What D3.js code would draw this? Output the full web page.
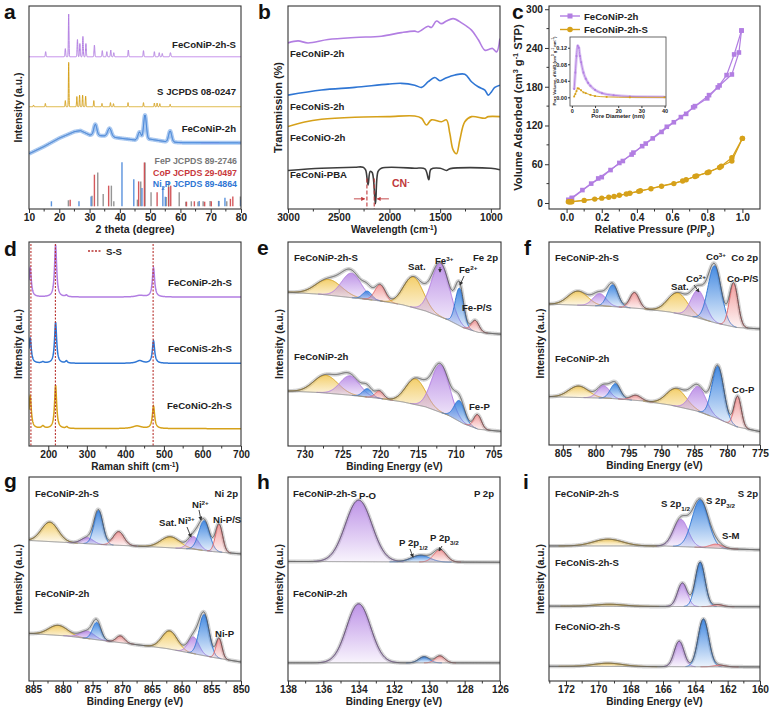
<!DOCTYPE html>
<html>
<head>
<meta charset="utf-8">
<script src="https://cdn.jsdelivr.net/npm/d3@7"></script>
<style>
  body { margin: 0; background: #fff; }
  svg { display: block; font-family: "Liberation Sans", Arial, sans-serif; font-weight: bold; }
</style>
</head>
<body>
<div id="fig"></div>
<script>
const WIDTH = 771, HEIGHT = 708;
const COL = { Y: "#d6a11a", P: "#b27ee2", B: "#2f76d4", R: "#e0676a", K: "#3a3a3a", G: "#7a7a7a" };
const FILL = { Y: "#f3cd66", P: "#bb8fe6", B: "#3c85e0", R: "#f29a9a" };

// ---------- (a) XRD ----------
// [2theta, height, width]
const xrdPS = [[15.5,2.5,0.12],[22,4,0.12],[23.1,21,0.1],[26,8.5,0.12],[26.8,6.5,0.12],[27.8,10,0.12],[28.8,6.5,0.12],[31.6,5.7,0.12],[34.2,3,0.12],[35.7,2.5,0.12],[37,3.3,0.12],[38,2,0.12],[42.8,3.3,0.12],[47.8,3,0.12],[51.4,2.5,0.12],[53,2,0.12],[54,1.6,0.12],[56.7,2,0.15]];
const xrdPSBase = 75;
const xrdSulfur = [[11.5,0.8,0.1],[15.4,1.6,0.1],[22,3,0.1],[23.1,21.8,0.09],[25.8,5,0.1],[26.7,5.7,0.1],[27.7,5.7,0.1],[28.7,5.2,0.1],[31.4,3,0.1],[34.1,1.6,0.1],[36.9,2,0.1],[37.9,1.5,0.1],[42.7,2,0.1],[47.8,2,0.1],[51.4,1.8,0.1],[52.3,1.8,0.1],[53.2,1.5,0.1],[56.6,1.2,0.1]];
const xrdSulfurBase = 50.4;
const xrdPBase = [[10,27.2],[15,30.8],[20,34.9],[25,38.1],[27,38.6],[30,36.5],[35,36],[40,34.9],[45,34],[50,34.4],[55,33.2],[60,32.7],[80,32.6]];
const xrdP = [[31.9,5.4,0.5],[36.6,4.1,0.6],[46.5,3.8,0.5],[48.3,12,0.45],[56.6,5.4,0.5]];
const stickFeP = [[23,4.3],[30.8,6.5],[32.7,18],[34.5,7.4],[37.2,11.5],[38,3.8],[45.8,4.6],[46.9,13.6],[48.3,22.9],[50.3,8.2],[55.3,5.9],[56.1,13.6],[59.6,8.2],[61.8,3.6],[63.6,3.8],[65.8,3.6],[67.5,3.8],[69.8,4],[72.6,4],[75.3,3.8],[79.8,6.2]];
const stickCoP = [[23.6,4.6],[31.6,16.9],[36.3,11.5],[46.2,13.6],[48.1,22.9],[52.3,8.2],[56.1,10.8],[56.8,11.5],[62,3.6],[64.6,3.8],[68,3.6],[70.2,3.8],[76.5,5],[77.3,6.2]];
const stickNi2P = [[17.4,3.8],[26.5,3.8],[30.5,6.2],[40.7,23],[44.6,14.7],[47.3,10.3],[54.2,10.8],[55,6],[66.2,4],[72.7,4],[74.7,5.6],[80,4.5]];
const stickBase = 1.3;

// ---------- (b) FTIR [wavenumber, value] ----------
const ftirP = [[3000,81.8],[2901,82.8],[2803,81.8],[2605,83.5],[2342,84.5],[2079,85.1],[1882,86.9],[1750,87.6],[1717,87.2],[1618,90],[1586,89.4],[1536,92.6],[1487,91.3],[1438,92.6],[1372,93.8],[1289,91.7],[1191,88.1],[1125,83.5],[1059,78.2],[1016,78.7],[983,79.1],[944,77.4],[911,84]];
const ftirS = [[3000,56.1],[2671,58.6],[2342,59.9],[2013,61.5],[1882,61.9],[1750,61],[1684,59.9],[1618,62.7],[1553,64.8],[1503,63.2],[1454,64.3],[1355,66],[1257,66.4],[1191,62.7],[1125,60.2],[1059,58.6],[1026,56.1],[993,57.8],[961,59.9],[911,61]];
const ftirO = [[3000,40.6],[2836,42.9],[2671,44.2],[2342,45.2],[2013,45.5],[1750,45.8],[1684,44.7],[1635,41.4],[1586,43.9],[1487,43],[1438,43.9],[1405,37.3],[1372,29.1],[1339,27.2],[1306,34],[1257,43],[1191,45.5],[1059,44.7],[1026,45.5],[911,45.5]];
const ftirPBA = [[3000,19],[2671,20.1],[2342,20.6],[2260,20.6],[2235,19.3],[2211,11.9],[2190,18.5],[2170,18],[2138,2.6],[2112,18.5],[2080,20.1],[1750,20.1],[1650,19.8],[1612,14.4],[1590,19.6],[1500,20.1],[1438,19],[1400,19.9],[1000,20.1],[911,19.3]];
const cnLines = [2222, 2150];

// ---------- (c) N2 isotherms [P/P0, V] ----------
const betPAds = [[0.01,4],[0.03,8],[0.09,20],[0.14,30],[0.2,40],[0.25,51],[0.3,62],[0.37,75],[0.43,88],[0.49,100],[0.54,110],[0.61,125],[0.68,138],[0.73,150],[0.81,167],[0.87,182],[0.94,199],[0.98,233],[0.995,267]];
const betPDes = [[0.995,267],[0.953,230],[0.91,198],[0.86,179],[0.8,162],[0.72,148],[0.65,133],[0.57,118],[0.45,92],[0.38,78],[0.32,65],[0.18,38],[0.03,7],[0.01,5]];
const betSAds = [[0.01,2],[0.03,2],[0.1,4],[0.16,6],[0.2,7.5],[0.24,9],[0.3,12],[0.36,15],[0.42,19],[0.48,22],[0.54,26],[0.61,30],[0.68,36],[0.74,42],[0.81,48],[0.88,57],[0.94,65],[1.0,100]];
const betSDes = [[1.0,100],[0.94,70],[0.87,55],[0.8,47],[0.73,41],[0.66,34],[0.41,18],[0.34,14],[0.27,10],[0.02,1.5]];
const poreP = [[1,0.02],[1.5,0.06],[2,0.1],[2.5,0.125],[3,0.12],[3.5,0.1],[4,0.085],[5,0.06],[6,0.045],[7,0.035],[8,0.028],[10,0.018],[13,0.01],[18,0.005],[25,0.002],[40,0.001]];
const poreS = [[1,0.002],[1.5,0.008],[2,0.015],[2.5,0.022],[3,0.021],[4,0.017],[5,0.012],[6,0.01],[8,0.006],[10,0.003],[15,0.001],[25,0],[40,0]];

// ---------- (d) Raman [shift, height, halfwidth] ----------
const ramanP = [[153,14.3,3.5],[219,25.7,3.2],[247,0.8,3],[438,0.8,12],[473,14.3,3.5]];
const ramanS = [[153,12.3,3.5],[186,0.6,4],[219,20.2,3.2],[247,1.1,3],[437,1.3,10],[473,11,3.5]];
const ramanO = [[153,16,3.5],[186,1.2,4],[219,21.3,3.2],[248,0.8,3],[430,1.3,14],[473,11,3.5]];
const ramanBase = [73, 40.5, 8.5];
const ssLines = [155, 218.5, 472];

// ---------- (e-i) XPS: background [BE, value], components [center, height, sigma, colour] ----------
const feSBg = [[732.2,75.4],[728,74.4],[724,72.8],[720,71.1],[717,69.2],[714,66.2],[711,61.8],[709,58],[707,55.7],[704,54.8]];
const feSComps = [[726.8,7.7,1.7,"Y"],[723.8,12,1.3,"P"],[721.7,4.1,0.6,"B"],[720,7.9,0.7,"R"],[715.6,15,1.3,"Y"],[712,26.2,1.2,"P"],[709.5,18.4,0.55,"B"],[707.4,5.4,0.5,"R"]];
const feBg = [[732.2,26.9],[728,26.2],[724,24.9],[720,23.3],[717,21.6],[714,19.2],[711,15.1],[709,11],[707,8.2],[704,7.2]];
const feComps = [[727.2,8.7,1.6,"Y"],[724,9.5,1.3,"P"],[721.7,4.1,0.6,"B"],[720.1,3.6,0.55,"R"],[715.3,12.6,1.3,"Y"],[712,23.4,1.2,"P"],[709.5,10.2,0.7,"B"],[707.1,7,0.5,"R"]];

const coSBg = [[807.1,69.4],[797.9,68.3],[792.8,67.1],[788.7,65.5],[784.7,62.8],[781.6,60],[778.6,57.9],[775,57.2]];
const coSComps = [[802.7,6.9,1.5,"Y"],[799.4,6.1,1,"P"],[797.4,10.7,0.8,"B"],[794.1,7.7,0.7,"R"],[787.5,10.2,1.5,"Y"],[784.4,13.7,1.1,"P"],[781.9,28,1,"B"],[779,21.4,0.65,"R"]];
const coBg = [[807.1,23.8],[797.9,23],[792.8,21.7],[788.7,19.7],[784.7,16.8],[781.6,13.2],[778.6,9],[775,6.6]];
const coComps = [[802.6,5.6,1.5,"Y"],[798.8,6.2,0.9,"P"],[797,7.4,0.75,"B"],[793.9,2.5,0.8,"R"],[787.7,8.7,1.5,"Y"],[784.4,12.3,1.2,"P"],[781.4,25.8,0.9,"B"],[778.4,15.1,0.55,"R"]];

const niSBg = [[885.7,68.9],[879.4,67.9],[873.7,66.9],[868.1,66.2],[862.5,65.4],[858,64.6],[854.6,63.4],[850,62.3]];
const niSComps = [[882.2,9.5,1.4,"Y"],[875.9,3,1,"P"],[874,16.6,0.75,"B"],[870.6,6.7,0.9,"R"],[861.9,5.4,1.6,"Y"],[858,6.2,0.9,"P"],[856.2,14.6,0.9,"B"],[853.7,13.6,0.6,"R"]];
const niBg = [[885.7,23.3],[879.4,22.1],[873.7,20],[868.1,18],[862.5,15.9],[858,13.4],[854.6,11.5],[850,9.3]];
const niComps = [[880.8,4.9,1.6,"Y"],[875.9,3.6,1.2,"P"],[874.3,8.5,0.7,"B"],[870.3,3.3,0.7,"R"],[862,8.9,1.3,"Y"],[858,8.2,0.9,"P"],[856.2,20.2,0.85,"B"],[853.7,9.8,0.5,"R"]];

const pSBg = [[138,58.6],[126,58.2]];
const pSComps = [[134,30.2,0.75,"P"],[130.5,3.3,0.52,"B"],[129.4,6,0.35,"R"]];
const pBg = [[138,8.9],[126,8.9]];
const pComps = [[134,28.9,0.68,"P"],[130.3,3,0.3,"B"],[129.4,3.4,0.27,"R"]];

const sPBg = [[173.05,66.2],[166,66.2],[164,65.6],[162,64.8],[160,64.3]];
const sPComps = [[169.4,3.3,0.9,"Y"],[164.9,13.4,0.45,"P"],[163.7,23.3,0.5,"B"],[162.7,2,0.4,"R"]];
const sSBg = [[173.05,36.7],[160,36.4]];
const sSComps = [[169.3,1,0.9,"Y"],[164.8,11.5,0.3,"P"],[163.7,21.8,0.3,"B"],[162.6,1,0.3,"R"]];
const sOBg = [[173.05,7.2],[160,6.9]];
const sOComps = [[169.4,1.6,0.9,"Y"],[165,12.5,0.3,"P"],[163.5,23.4,0.33,"B"],[162.5,0.8,0.35,"R"]];

// ================= drawing =================
const svg = d3.select("#fig").append("svg").attr("width", WIDTH).attr("height", HEIGHT);
const defs = svg.append("defs");

Object.keys(FILL).forEach(k => {
  const gr = defs.append("linearGradient").attr("id", "grad" + k)
    .attr("x1", 0).attr("y1", 0).attr("x2", 0).attr("y2", 1);
  gr.append("stop").attr("offset", "0%").attr("stop-color", FILL[k]).attr("stop-opacity", 0.95);
  gr.append("stop").attr("offset", "100%").attr("stop-color", FILL[k]).attr("stop-opacity", 0.1);
});
[["arrK", "#333"], ["arrR", "#c0393b"]].forEach(([id, c]) => {
  defs.append("marker").attr("id", id).attr("viewBox", "0 0 6 6").attr("refX", 5).attr("refY", 3)
    .attr("markerWidth", 4.5).attr("markerHeight", 4.5).attr("orient", "auto")
    .append("path").attr("d", "M0,0L6,3L0,6Z").attr("fill", c);
});

// text with optional sub/superscript parts
function txt(x, y, parts, o = {}) {
  const t = svg.append("text").attr("x", x).attr("y", y)
    .attr("font-size", o.size || 9.6)
    .attr("text-anchor", o.anchor || "start")
    .attr("fill", o.fill || "#222");
  if (o.rotate) t.attr("transform", `rotate(${o.rotate},${x},${y})`);
  (typeof parts === "string" ? [[parts]] : parts).forEach(([s, k]) => {
    const ts = t.append("tspan").text(s);
    if (k === "sup") ts.attr("baseline-shift", "super").attr("font-size", "65%");
    if (k === "sub") ts.attr("baseline-shift", "sub").attr("font-size", "65%");
  });
  return t;
}

function arrow(x1, y1, x2, y2, id = "arrK", c = "#333") {
  svg.append("line").attr("x1", x1).attr("y1", y1).attr("x2", x2).attr("y2", y2)
    .attr("stroke", c).attr("stroke-width", 0.9).attr("marker-end", `url(#${id})`);
}

function styleAxis(g, size) {
  g.attr("font-family", null).attr("font-size", size || 10.2);
  g.select(".domain").remove();
  g.selectAll(".tick line").attr("stroke", "#333");
  g.selectAll(".tick text").attr("fill", "#222");
}

function panel(o) {
  const x = d3.scaleLinear().domain(o.xd).range([o.l, o.r]);
  const y = d3.scaleLinear().domain(o.yd || [0, 100]).range([o.b, o.t]);
  const cid = "clip_" + o.letter;
  defs.append("clipPath").attr("id", cid).append("rect")
    .attr("x", o.l).attr("y", o.t).attr("width", o.r - o.l).attr("height", o.b - o.t);
  const plot = svg.append("g").attr("clip-path", `url(#${cid})`);

  svg.append("g").selectAll("line").data(o.xm).join("line")
    .attr("x1", d => x(d)).attr("x2", d => x(d)).attr("y1", o.b).attr("y2", o.b + 2.5)
    .attr("stroke", "#333");
  svg.append("g").attr("transform", `translate(0,${o.b})`)
    .call(d3.axisBottom(x).tickValues(o.xt).tickSize(4).tickPadding(1).tickFormat(o.xf || (d => d)))
    .call(g => styleAxis(g));

  if (o.yt) {
    svg.append("g").selectAll("line").data(o.ym).join("line")
      .attr("x1", o.l).attr("x2", o.l - 2.5).attr("y1", d => y(d)).attr("y2", d => y(d))
      .attr("stroke", "#333");
    svg.append("g").attr("transform", `translate(${o.l},0)`)
      .call(d3.axisLeft(y).tickValues(o.yt).tickSize(4).tickPadding(2))
      .call(g => styleAxis(g));
  }

  svg.append("rect").attr("x", o.l).attr("y", o.t).attr("width", o.r - o.l).attr("height", o.b - o.t)
    .attr("fill", "none").attr("stroke", "#333").attr("stroke-width", 1.1);

  txt((o.l + o.r) / 2, o.b + 24, o.xTitle, { anchor: "middle", size: o.xs || 10.1 });
  txt(o.yx, (o.t + o.b) / 2, o.yTitle, { anchor: "middle", size: o.ys || 10.3, rotate: -90 });
  txt(o.lx, o.ly, o.letter, { size: 21, fill: "#111" });
  return { x, y, plot };
}

const bgOf = pts => d3.scaleLinear().domain(pts.map(d => d[0])).range(pts.map(d => d[1])).clamp(true);
const gauss = (c, e) => c[1] * Math.exp(-0.5 * ((e - c[0]) / c[2]) ** 2);
const lorentz = (c, e) => c[1] * c[2] * c[2] / ((e - c[0]) ** 2 + c[2] * c[2]);

function sampleDomain(x, n) {
  const [d0, d1] = x.domain();
  return d3.range(0, n + 1).map(i => d0 + (d1 - d0) * i / n);
}

function drawXPS(p, bg, comps) {
  const bgS = bgOf(bg);
  const es = sampleDomain(p.x, 700);
  const env = e => bgS(e) + d3.sum(comps, c => gauss(c, e));
  // measured data shown as a soft grey band
  p.plot.append("path").datum(es).attr("fill", "none").attr("stroke", "#d3d3d3").attr("stroke-width", 4)
    .attr("d", d3.line().x(e => p.x(e)).y(e => p.y(env(e))));
  comps.forEach(c => {
    const seg = es.filter(e => Math.abs(e - c[0]) <= 3.4 * c[2]);
    p.plot.append("path").datum(seg).attr("fill", `url(#grad${c[3]})`)
      .attr("d", d3.area().x(e => p.x(e)).y0(e => p.y(bgS(e))).y1(e => p.y(bgS(e) + gauss(c, e))));
    p.plot.append("path").datum(seg).attr("fill", "none").attr("stroke", COL[c[3]]).attr("stroke-width", 1)
      .attr("d", d3.line().x(e => p.x(e)).y(e => p.y(bgS(e) + gauss(c, e))));
  });
  p.plot.append("path").datum(es).attr("fill", "none").attr("stroke", "#8a8a8a").attr("stroke-width", 1)
    .attr("d", d3.line().x(e => p.x(e)).y(e => p.y(bgS(e))));
  p.plot.append("path").datum(es).attr("fill", "none").attr("stroke", "#555").attr("stroke-width", 0.9)
    .attr("d", d3.line().x(e => p.x(e)).y(e => p.y(env(e))));
}

const intensity = "Intensity (a.u.)";
const beTitle = "Binding Energy (eV)";

// ----- (a) -----
const pa = panel({ letter: "a", lx: 4, ly: 19, l: 29, r: 241, t: 6, b: 209, xd: [10, 80],
  xt: d3.range(10, 81, 10), xm: d3.range(15, 80, 10), xTitle: "2 theta (degree)", xs: 10.6, yTitle: intensity, yx: 22 });
const tt = sampleDomain(pa.x, 3500);
function xrdLine(base, peaks, color, w) {
  const baseS = typeof base === "number" ? (() => base) : bgOf(base);
  pa.plot.append("path").datum(tt).attr("fill", "none").attr("stroke", color).attr("stroke-width", w || 1)
    .attr("d", d3.line().x(t => pa.x(t)).y(t => pa.y(baseS(t) + d3.sum(peaks, c => gauss(c, t)))));
}
xrdLine(xrdPBase, xrdP, "#a9c8f0", 4);
xrdLine(xrdPBase, xrdP, COL.B, 1);
xrdLine(xrdSulfurBase, xrdSulfur, COL.Y, 1);
xrdLine(xrdPSBase, xrdPS, COL.P, 1);
[[stickFeP, "#8a8a8a"], [stickCoP, "#d0484c"], [stickNi2P, "#4a88da"]].forEach(([s, c]) => {
  pa.plot.append("g").selectAll("line").data(s).join("line")
    .attr("x1", d => pa.x(d[0])).attr("x2", d => pa.x(d[0]))
    .attr("y1", pa.y(stickBase)).attr("y2", d => pa.y(d[1]))
    .attr("stroke", c).attr("stroke-width", 1.4).attr("opacity", 0.9);
});
txt(236, 48, "FeCoNiP-2h-S", { anchor: "end" });
txt(236, 95, "S  JCPDS 08-0247", { anchor: "end" });
txt(236, 132, "FeCoNiP-2h", { anchor: "end" });
txt(237, 163.5, "FeP JCPDS 89-2746", { anchor: "end", size: 8.8, fill: "#777" });
txt(237, 175.5, "CoP JCPDS 29-0497", { anchor: "end", size: 8.8, fill: "#c8383c" });
txt(237, 186.5, [["Ni"], ["2", "sub"], ["P JCPDS 89-4864"]], { anchor: "end", size: 8.8, fill: "#2f76d4" });

// ----- (b) -----
const pb = panel({ letter: "b", lx: 258, ly: 19, l: 288, r: 500, t: 6, b: 209, xd: [3000, 910],
  xt: [3000, 2500, 2000, 1500, 1000], xm: [2750, 2250, 1750, 1250], xTitle: [["Wavelength (cm"], ["-1", "sup"], [")"]],
  yTitle: "Transmission (%)", ys: 11, yx: 282 });
const ftLine = d3.line().x(d => pb.x(d[0])).y(d => pb.y(d[1])).curve(d3.curveCatmullRom.alpha(0.5));
[[ftirP, COL.P], [ftirS, COL.B], [ftirO, COL.Y], [ftirPBA, "#3d3d3d"]].forEach(([d, c]) => {
  pb.plot.append("path").datum(d).attr("fill", "none").attr("stroke", c).attr("stroke-width", 1.6).attr("d", ftLine);
});
pb.plot.append("g").selectAll("line").data(cnLines).join("line")
  .attr("x1", d => pb.x(d)).attr("x2", d => pb.x(d)).attr("y1", pb.y(15)).attr("y2", pb.y(0))
  .attr("stroke", "#c0393b").attr("stroke-width", 1.1).attr("stroke-dasharray", "4,2");
arrow(pb.x(2350), pb.y(5), pb.x(2245), pb.y(5), "arrR", "#c0393b");
arrow(pb.x(2005), pb.y(5), pb.x(2120), pb.y(5), "arrR", "#c0393b");
txt(392, 187, [["CN"], ["-", "sup"]], { size: 10.5, fill: "#c0393b" });
txt(290, 57, "FeCoNiP-2h");
txt(290, 110, "FeCoNiS-2h");
txt(290, 141, "FeCoNiO-2h");
txt(290, 178, "FeCoNi-PBA");

// ----- (c) -----
const pc = panel({ letter: "c", lx: 512, ly: 19, l: 549, r: 760, t: 6, b: 209, xd: [-0.1, 1.1], yd: [-9.3, 305],
  xt: d3.range(0, 1.01, 0.2), xm: d3.range(0.1, 1, 0.2), xf: d3.format(".1f"),
  yt: d3.range(0, 301, 60), ym: d3.range(30, 300, 60),
  xTitle: [["Relative Pressure (P/P"], ["0", "sub"], [")"]], xs: 10.6,
  yTitle: [["Volume Adsorbed (cm"], ["3", "sup"], [" g"], ["-1", "sup"], [" STP)"]], ys: 11.2, yx: 522 });
const betLine = d3.line().x(d => pc.x(d[0])).y(d => pc.y(d[1]));
function betSeries(ads, des, c, shape) {
  [ads, des].forEach(d => {
    pc.plot.append("path").datum(d).attr("fill", "none").attr("stroke", c).attr("stroke-width", 1.2).attr("d", betLine);
    const m = pc.plot.append("g").selectAll("*").data(d);
    if (shape === "sq") m.join("rect").attr("x", d => pc.x(d[0]) - 2.3).attr("y", d => pc.y(d[1]) - 2.3)
      .attr("width", 4.6).attr("height", 4.6).attr("fill", c);
    else m.join("circle").attr("cx", d => pc.x(d[0])).attr("cy", d => pc.y(d[1])).attr("r", 2.7).attr("fill", c);
  });
}
betSeries(betPAds, betPDes, COL.P, "sq");
betSeries(betSAds, betSDes, COL.Y, "ci");
[[16, COL.P, "sq", "FeCoNiP-2h"], [29.5, COL.Y, "ci", "FeCoNiP-2h-S"]].forEach(([yy, c, s, lab]) => {
  svg.append("line").attr("x1", 560).attr("x2", 580).attr("y1", yy).attr("y2", yy).attr("stroke", c).attr("stroke-width", 1.4);
  if (s === "sq") svg.append("rect").attr("x", 567.5).attr("y", yy - 2.5).attr("width", 5).attr("height", 5).attr("fill", c);
  else svg.append("circle").attr("cx", 570).attr("cy", yy).attr("r", 2.8).attr("fill", c);
  txt(584, yy + 3.5, lab);
});
// inset
const ix = d3.scaleLinear().domain([-0.8, 40.6]).range([570, 666]);
const iy = d3.scaleLinear().domain([-0.021, 0.146]).range([106, 37]);
svg.append("rect").attr("x", 570).attr("y", 37).attr("width", 96).attr("height", 69).attr("fill", "#fff");
const poreLine = d3.line().x(d => ix(d[0])).y(d => iy(d[1])).curve(d3.curveMonotoneX);
svg.append("path").datum(poreP).attr("fill", "none").attr("stroke", "#dcc6f2").attr("stroke-width", 3).attr("d", poreLine);
[[poreP, COL.P], [poreS, COL.Y]].forEach(([d, c]) => {
  svg.append("path").datum(d).attr("fill", "none").attr("stroke", c).attr("stroke-width", 0.9).attr("d", poreLine);
  svg.append("g").selectAll("rect").data(d).join("rect")
    .attr("x", p => ix(p[0]) - 0.9).attr("y", p => iy(p[1]) - 0.9).attr("width", 1.8).attr("height", 1.8).attr("fill", c);
});
svg.append("rect").attr("x", 570).attr("y", 37).attr("width", 96).attr("height", 69)
  .attr("fill", "none").attr("stroke", "#444").attr("stroke-width", 0.8);
svg.append("g").attr("transform", "translate(0,106)")
  .call(d3.axisBottom(ix).tickValues([0, 10, 20, 30, 40]).tickSize(2).tickPadding(1))
  .call(g => styleAxis(g, 5.5));
svg.append("g").attr("transform", "translate(570,0)")
  .call(d3.axisLeft(iy).tickValues([0, 0.04, 0.08, 0.12]).tickSize(2).tickPadding(1).tickFormat(d3.format(".2f")))
  .call(g => styleAxis(g, 5.5));
txt(618, 117.5, "Pore Diameter (nm)", { anchor: "middle", size: 5.8 });
txt(556, 71, [["Pore Volume, dV/dD (cm"], ["3", "sup"], [" g"], ["-1", "sup"], [" nm"], ["-1", "sup"], [")"]],
  { anchor: "middle", size: 4.3, rotate: -90 });

// ----- (d) -----
const pd = panel({ letter: "d", lx: 4, ly: 256, l: 29, r: 241, t: 242, b: 446, xd: [150, 700],
  xt: d3.range(200, 701, 100), xm: d3.range(250, 700, 100),
  xTitle: [["Raman shift (cm"], ["-1", "sup"], [")"]], yTitle: intensity, yx: 22 });
const rs = sampleDomain(pd.x, 1100);
[[ramanP, ramanBase[0], COL.P], [ramanS, ramanBase[1], COL.B], [ramanO, ramanBase[2], COL.Y]].forEach(([pk, b0, c]) => {
  pd.plot.append("path").datum(rs).attr("fill", "none").attr("stroke", c).attr("stroke-width", 1.5)
    .attr("d", d3.line().x(s => pd.x(s)).y(s => pd.y(b0 + d3.sum(pk, q => lorentz(q, s)))));
});
pd.plot.append("g").selectAll("line").data(ssLines).join("line")
  .attr("x1", d => pd.x(d)).attr("x2", d => pd.x(d)).attr("y1", pd.y(99)).attr("y2", pd.y(0))
  .attr("stroke", "#b8322f").attr("stroke-width", 1.1).attr("stroke-dasharray", "2,1.5");
svg.append("line").attr("x1", 88).attr("x2", 102).attr("y1", 251).attr("y2", 251)
  .attr("stroke", "#b8322f").attr("stroke-width", 1.3).attr("stroke-dasharray", "2,1.5");
txt(106, 254.5, "S-S");
txt(232, 286, "FeCoNiP-2h-S", { anchor: "end" });
txt(232, 352, "FeCoNiS-2h-S", { anchor: "end" });
txt(232, 409, "FeCoNiO-2h-S", { anchor: "end" });

// ----- (e) -----
const pe = panel({ letter: "e", lx: 257, ly: 255, l: 288, r: 501, t: 242, b: 446, xd: [732.2, 704],
  xt: d3.range(730, 704, -5), xm: d3.range(727.5, 704, -5), xTitle: beTitle, yTitle: intensity, yx: 283 });
drawXPS(pe, feSBg, feSComps);
drawXPS(pe, feBg, feComps);
txt(294, 261, "FeCoNiP-2h-S");
txt(498, 261, "Fe 2p", { anchor: "end" });
txt(408, 270, "Sat.");
txt(435, 264, [["Fe"], ["3+", "sup"]]);
arrow(440, 267, 440, 272);
txt(459, 273, [["Fe"], ["2+", "sup"]]);
arrow(464, 276, 460, 285);
txt(462, 311, "Fe-P/S");
txt(469, 410, "Fe-P");
txt(294, 360, "FeCoNiP-2h");

// ----- (f) -----
const pf = panel({ letter: "f", lx: 524, ly: 255, l: 549, r: 760, t: 242, b: 445, xd: [807.1, 775],
  xt: d3.range(805, 774, -5), xm: d3.range(802.5, 775, -5), xTitle: beTitle, yTitle: intensity, yx: 544 });
drawXPS(pf, coSBg, coSComps);
drawXPS(pf, coBg, coComps);
txt(555, 261, "FeCoNiP-2h-S");
txt(758, 261, "Co 2p", { anchor: "end" });
txt(671, 290, "Sat.");
txt(686, 282, [["Co"], ["2+", "sup"]]);
arrow(694, 285, 699, 292);
txt(706, 260, [["Co"], ["3+", "sup"]]);
txt(727, 282, "Co-P/S");
txt(732, 393, "Co-P");
txt(555, 362, "FeCoNiP-2h");

// ----- (g) -----
const pg = panel({ letter: "g", lx: 4, ly: 488, l: 29, r: 241, t: 477, b: 681, xd: [885.7, 850],
  xt: d3.range(885, 849, -5), xm: d3.range(882.5, 850, -5), xTitle: beTitle, yTitle: intensity, yx: 22 });
drawXPS(pg, niSBg, niSComps);
drawXPS(pg, niBg, niComps);
txt(35, 497, "FeCoNiP-2h-S");
txt(238, 497, "Ni 2p", { anchor: "end" });
txt(159, 526, "Sat.");
txt(178, 524, [["Ni"], ["3+", "sup"]]);
arrow(187, 527, 191, 537);
txt(192, 508, [["Ni"], ["2+", "sup"]]);
arrow(199, 510, 201, 520);
txt(213, 523, "Ni-P/S");
txt(215, 637, "Ni-P");
txt(35, 597, "FeCoNiP-2h");

// ----- (h) -----
const ph = panel({ letter: "h", lx: 257, ly: 489, l: 288, r: 500, t: 477, b: 681, xd: [138, 126],
  xt: d3.range(138, 125, -2), xm: d3.range(137, 126, -2), xTitle: beTitle, yTitle: intensity, yx: 283 });
drawXPS(ph, pSBg, pSComps);
drawXPS(ph, pBg, pComps);
txt(293, 497, "FeCoNiP-2h-S");
txt(359, 499, "P-O");
txt(494, 497, "P 2p", { anchor: "end" });
txt(399, 546, [["P 2p"], ["1/2", "sub"]]);
arrow(410, 549, 413, 557);
txt(430, 541, [["P 2p"], ["3/2", "sub"]]);
arrow(442, 546, 439, 551);
txt(293, 597, "FeCoNiP-2h");

// ----- (i) -----
const pi = panel({ letter: "i", lx: 523, ly: 489, l: 549, r: 760, t: 477, b: 681, xd: [173.05, 160],
  xt: d3.range(172, 159, -2), xm: d3.range(173, 160, -2), xTitle: beTitle, yTitle: intensity, yx: 544 });
drawXPS(pi, sPBg, sPComps);
drawXPS(pi, sSBg, sSComps);
drawXPS(pi, sOBg, sOComps);
txt(555, 497, "FeCoNiP-2h-S");
txt(758, 497, "S 2p", { anchor: "end" });
txt(661, 507, [["S 2p"], ["1/2", "sub"]]);
txt(706, 504, [["S 2p"], ["3/2", "sub"]]);
txt(722, 539, "S-M");
txt(555, 566, "FeCoNiS-2h-S");
txt(555, 630, "FeCoNiO-2h-S");
</script>
</body>
</html>
